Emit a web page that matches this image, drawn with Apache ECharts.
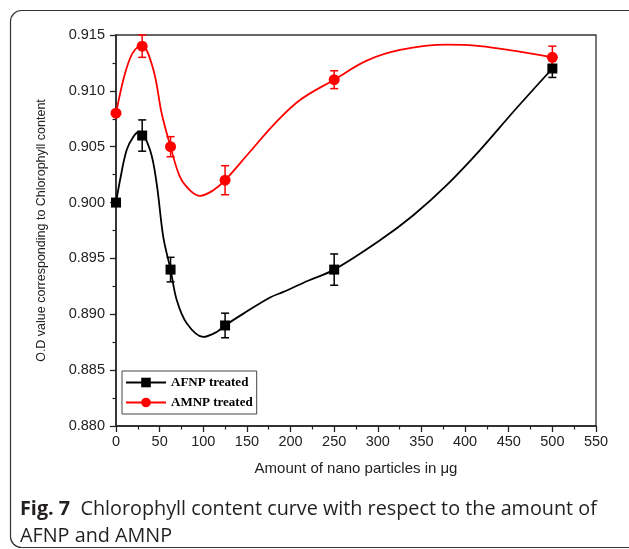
<!DOCTYPE html>
<html>
<head>
<meta charset="utf-8">
<script src="https://cdn.jsdelivr.net/npm/echarts@6/dist/echarts.min.js"></script>
<style>
html,body{margin:0;padding:0;background:#fff;}
#chart{width:629px;height:549px;}
</style>
</head>
<body>
<div id="chart"></div>
<script>
// Measured data points (dose in µg)
const doses = [0, 30, 62.5, 125, 250, 500];
const afnpValues = [0.900, 0.906, 0.894, 0.889, 0.894, 0.912];
const afnpErrors = [0, 0.0014, 0.0011, 0.0011, 0.0014, 0.0008];
const amnpValues = [0.908, 0.914, 0.905, 0.902, 0.911, 0.913];
const amnpErrors = [0, 0.0010, 0.0009, 0.0013, 0.0008, 0.0010];

// Fitted curves
const afnpCurveX = [0, 4.6, 12.2, 19.9, 26.7, 39, 46.6, 54.2, 62.5, 69.5, 81, 100, 115.4, 125, 146, 176.5, 191.7, 220, 250, 302.5, 340.7, 378.9, 417.1, 455.3, 500];
const afnpCurveY = [0.900, 0.9020, 0.9047, 0.9059, 0.90634, 0.9047, 0.9017, 0.8969, 0.894, 0.8913, 0.8892, 0.88797, 0.88842, 0.889, 0.89006, 0.8915, 0.8920, 0.8930, 0.894, 0.89663, 0.89887, 0.90156, 0.9047, 0.90813, 0.912];
const amnpCurveX = [0, 8.4, 16, 22, 29.4, 42.8, 52.3, 62.5, 73.3, 84.8, 96.3, 111.5, 125, 153.5, 182.2, 210.8, 250, 287.3, 325.4, 378.9, 417.1, 455.3, 500];
const amnpCurveY = [0.908, 0.9110, 0.9129, 0.9137, 0.9141, 0.9119, 0.9080, 0.905, 0.9023, 0.9011, 0.9006, 0.9011, 0.902, 0.90455, 0.90709, 0.90918, 0.911, 0.9127, 0.91366, 0.91413, 0.91401, 0.9136, 0.913];

// Axis ticks
const xTicks = [0, 50, 100, 150, 200, 250, 300, 350, 400, 450, 500, 550];
const yTicks = ['0.880', '0.885', '0.890', '0.895', '0.900', '0.905', '0.910', '0.915'];

const seriesNames = ['AFNP treated', 'AMNP treated'];
const xName = 'Amount of nano particles in \u03bcg';
const yName = 'O.D value corresponding to Chlorophyll content';

const zip = (a, b) => a.map((v, i) => [v, b[i]]);
const errData = (vals, errs) => doses.map((d, i) => [d, vals[i] - errs[i], vals[i] + errs[i]]).filter((r, i) => errs[i] > 0);

function renderErr(params, api) {
  const x = api.value(0);
  const lo = api.coord([x, api.value(1)]);
  const hi = api.coord([x, api.value(2)]);
  const w = 4;
  const style = { stroke: api.visual('color'), lineWidth: 1.5, fill: null };
  return {
    type: 'group',
    children: [
      { type: 'line', shape: { x1: lo[0], y1: lo[1], x2: hi[0], y2: hi[1] }, style },
      { type: 'line', shape: { x1: lo[0] - w, y1: lo[1], x2: lo[0] + w, y2: lo[1] }, style },
      { type: 'line', shape: { x1: hi[0] - w, y1: hi[1], x2: hi[0] + w, y2: hi[1] }, style }
    ]
  };
}

const chart = echarts.init(document.getElementById('chart'), null, { renderer: 'canvas' });
const labelFont = { fontFamily: 'Liberation Sans, Arial, sans-serif', fontSize: 14.5, color: '#222' };

chart.setOption({
  animation: false,
  backgroundColor: '#fff',
  grid: { left: 116, right: 33, top: 35, bottom: 123, show: true, borderColor: '#333', borderWidth: 1.3, backgroundColor: 'transparent' },
  xAxis: {
    type: 'value', min: xTicks[0], max: xTicks[xTicks.length - 1], interval: 50,
    name: xName, nameLocation: 'middle', nameGap: 35,
    nameTextStyle: Object.assign({}, labelFont, { fontSize: 15 }),
    axisLine: { show: true, onZero: false, lineStyle: { color: '#222', width: 1.5 } },
    axisTick: { show: true, length: 6, lineStyle: { color: '#222', width: 1.3 } },
    minorTick: { show: true, splitNumber: 2, length: 3.5, lineStyle: { color: '#222', width: 1.2 } },
    splitLine: { show: false },
    axisLabel: Object.assign({}, labelFont, { margin: 8 })
  },
  yAxis: {
    type: 'value', min: 0.880, max: 0.915, interval: 0.005,
    name: yName, nameLocation: 'middle', nameGap: 68,
    nameTextStyle: Object.assign({}, labelFont, { fontSize: 12.5 }),
    axisLine: { show: true, onZero: false, lineStyle: { color: '#222', width: 1.5 } },
    axisTick: { show: true, length: 6, lineStyle: { color: '#222', width: 1.3 } },
    minorTick: { show: true, splitNumber: 2, length: 3.5, lineStyle: { color: '#222', width: 1.2 } },
    splitLine: { show: false },
    axisLabel: Object.assign({}, labelFont, { margin: 11, formatter: v => yTicks.find(t => Math.abs(parseFloat(t) - v) < 1e-6) || v.toFixed(3) })
  },
  legend: {
    left: 122, top: 371, orient: 'vertical',
    backgroundColor: '#fff', borderColor: '#444', borderWidth: 1,
    padding: [5, 4, 5, 3], itemGap: 7, itemWidth: 40, itemHeight: 12,
    textStyle: { fontFamily: 'Liberation Serif, Times New Roman, serif', fontWeight: 'bold', fontSize: 13, color: '#000' },
    data: [
      { name: seriesNames[0], lineStyle: { color: '#000', width: 2, opacity: 1 }, itemStyle: { color: '#000', opacity: 1 } },
      { name: seriesNames[1], lineStyle: { color: '#ff0000', width: 2, opacity: 1 }, itemStyle: { color: '#ff0000', opacity: 1 } }
    ]
  },
  graphic: [
    { type: 'rect', shape: { x: 10.5, y: 10.5, width: 640, height: 537, r: 11 }, style: { fill: null, stroke: '#333', lineWidth: 1.2 }, silent: true, z: -1 },
    {
      type: 'text', left: 20, top: 496,
      style: {
        text: '{b|Fig. 7}  Chlorophyll content curve with respect to the amount of\nAFNP and AMNP',
        fontFamily: 'Open Sans, Noto Sans, sans-serif', fontSize: 19.8, lineHeight: 27, fill: '#231f20',
        rich: { b: { fontFamily: 'Open Sans, Noto Sans, sans-serif', fontWeight: 'bold', fontSize: 19.8, lineHeight: 27, fill: '#231f20' } }
      }
    }
  ],
  series: [
    { name: seriesNames[0], type: 'line', data: zip(doses, afnpValues), symbol: 'rect', symbolSize: 10, itemStyle: { color: '#000' }, lineStyle: { width: 0, opacity: 0 }, z: 4 },
    { name: seriesNames[1], type: 'line', data: zip(doses, amnpValues), symbol: 'circle', symbolSize: 11, itemStyle: { color: '#ff0000' }, lineStyle: { width: 0, opacity: 0 }, z: 4 },
    { name: 'AFNP fit', type: 'line', data: zip(afnpCurveX, afnpCurveY), smooth: 0.35, showSymbol: false, symbol: 'none', lineStyle: { color: '#000', width: 1.8 }, z: 2, silent: true },
    { name: 'AMNP fit', type: 'line', data: zip(amnpCurveX, amnpCurveY), smooth: 0.35, showSymbol: false, symbol: 'none', lineStyle: { color: '#ff0000', width: 1.8 }, z: 2, silent: true },
    { name: 'AFNP error', type: 'custom', renderItem: renderErr, data: errData(afnpValues, afnpErrors), itemStyle: { color: '#000' }, z: 3, encode: { x: 0, y: [1, 2] } },
    { name: 'AMNP error', type: 'custom', renderItem: renderErr, data: errData(amnpValues, amnpErrors), itemStyle: { color: '#ff0000' }, z: 3, encode: { x: 0, y: [1, 2] } }
  ]
});
</script>
</body>
</html>
